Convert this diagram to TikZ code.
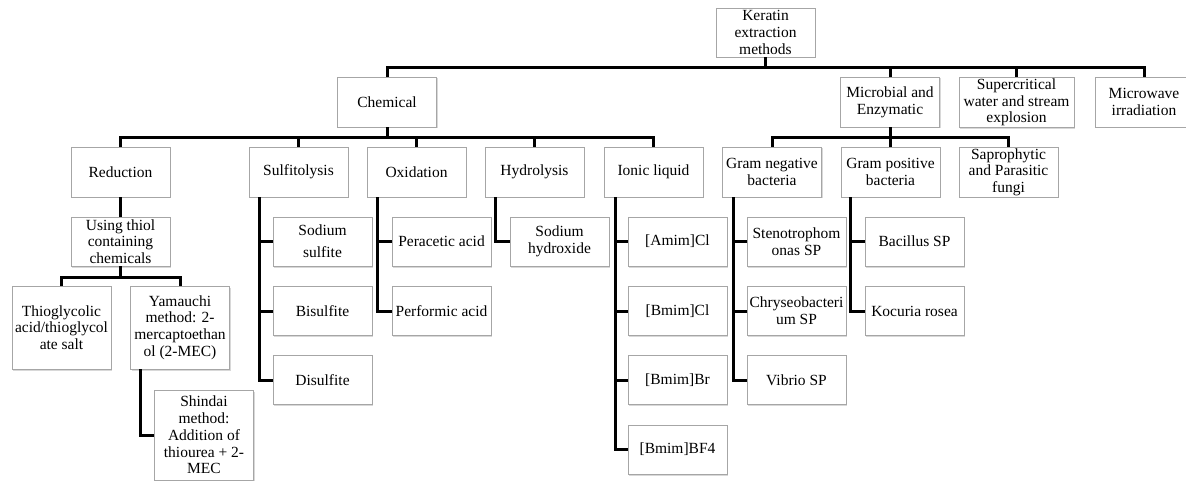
\documentclass[tikz,border=0pt]{standalone}
\usepackage{fontspec}
\setmainfont{Liberation Serif}
\usepackage{tikz}
\usetikzlibrary{shadows}

\begin{document}
\begin{tikzpicture}[x=1pt, y=-1pt,
    box/.style={draw=gray!70, line width=0.8pt, fill=white, align=center,
        inner sep=1pt, minimum width=99pt, minimum height=49pt,
        font=\fontsize{15.5}{16.7}\selectfont,
        drop shadow={shadow xshift=1.2pt, shadow yshift=-1.5pt, fill=black!30}},
    link/.style={line width=3pt}]

    \useasboundingbox (0,0) rectangle (1186,481);

    % Rows
    \def\rowA{102}
    \def\rowB{172}

    % Root and main methods
    \node[box] (ker) at (765.5,32.5) {Keratin\\extraction\\methods};
    \node[box, minimum height=50pt] (chem) at (387,\rowA) {Chemical};
    \node[box, minimum height=50pt] (micro) at (890,\rowA) {Microbial and\\Enzymatic};
    \node[box, minimum height=50pt, minimum width=115pt] (super) at (1016.5,102.5) {Supercritical\\water and stream\\explosion};
    \node[box, minimum height=50pt, minimum width=98pt] (micwave) at (1144,\rowA) {Microwave\\irradiation};

    % Second level
    \node[box, minimum height=50pt] (red) at (120.5,\rowB) {Reduction};
    \node[box, minimum height=50pt] (sulf) at (298.5,\rowB) {Sulfitolysis};
    \node[box, minimum height=50pt] (oxid) at (416.5,\rowB) {Oxidation};
    \node[box, minimum height=50pt] (hydro) at (534.5,\rowB) {Hydrolysis};
    \node[box, minimum height=50pt] (ionic) at (653.5,\rowB) {Ionic liquid};
    \node[box, minimum height=50pt] (gneg) at (772,\rowB) {Gram negative\\bacteria};
    \node[box, minimum height=50pt] (gpos) at (890.5,\rowB) {Gram positive\\bacteria};
    \node[box, minimum height=50pt] (sapro) at (1008.5,\rowB) {Saprophytic\\and Parasitic\\fungi};

    % Reduction branch
    \node[box] (thiol) at (120.5,241.5) {Using thiol\\containing\\chemicals};
    \node[box, minimum height=83pt] (tg) at (61.5,327.5) {Thioglycolic\\acid/thioglycol\\ate salt};
    \node[box, minimum height=83pt] (yam) at (180,327.5) {Yamauchi\\method: 2-\\mercaptoethan\\ol (2-MEC)};
    \node[box, minimum height=90pt] (shin) at (204,435) {Shindai\\method:\\Addition of\\thiourea + 2-\\MEC};

    % Chemical agents
    \node[box] (nasul) at (322.5,241.5) {Sodium\\[5pt]sulfite};
    \node[box] (bisul) at (322.5,311) {Bisulfite};
    \node[box] (disul) at (322.5,380) {Disulfite};
    \node[box] (perac) at (441.5,241.5) {Peracetic acid};
    \node[box] (perf) at (441.5,311) {Performic acid};
    \node[box] (naoh) at (559.5,241.5) {Sodium\\hydroxide};
    \node[box] (amim) at (677.5,241.5) {[Amim]Cl};
    \node[box] (bmcl) at (677.5,311) {[Bmim]Cl};
    \node[box] (bmbr) at (677.5,380) {[Bmim]Br};
    \node[box] (bmbf) at (677.5,449.5) {[Bmim]BF4};

    % Microorganisms
    \node[box] (steno) at (796.5,241.5) {Stenotrophom\\onas SP};
    \node[box] (chryse) at (796.5,311) {Chryseobacteri\\um SP};
    \node[box] (vib) at (796.5,380) {Vibrio SP};
    \node[box] (bac) at (914.5,241.5) {Bacillus SP};
    \node[box] (koc) at (914.5,311) {Kocuria rosea};

    % Tree links
    \foreach \kid in {chem,micro,super,micwave}
        \draw[link] (ker.south) -- ++(0,10) -| (\kid.north);
    \foreach \kid in {red,sulf,oxid,hydro,ionic}
        \draw[link] (chem.south) -- ++(0,10) -| (\kid.north);
    \foreach \kid in {gneg,gpos,sapro}
        \draw[link] (micro.south) -- ++(0,10) -| (\kid.north);
    \draw[link] (red.south) -- (thiol.north);
    \foreach \kid in {tg,yam}
        \draw[link] (thiol.south) -- ++(0,11) -| (\kid.north);

    % Side trunks
    \draw[link] ([xshift=10pt]yam.south west) |- (shin.west);
    \foreach \kid in {nasul,bisul,disul}
        \draw[link] ([xshift=10.5pt]sulf.south west) |- (\kid.west);
    \foreach \kid in {perac,perf}
        \draw[link] ([xshift=11pt]oxid.south west) |- (\kid.west);
    \draw[link] ([xshift=10.5pt]hydro.south west) |- (naoh.west);
    \foreach \kid in {amim,bmcl,bmbr,bmbf}
        \draw[link] ([xshift=11.5pt]ionic.south west) |- (\kid.west);
    \foreach \kid in {steno,chryse,vib}
        \draw[link] ([xshift=11pt]gneg.south west) |- (\kid.west);
    \foreach \kid in {bac,koc}
        \draw[link] ([xshift=10pt]gpos.south west) |- (\kid.west);

\end{tikzpicture}
\end{document}
